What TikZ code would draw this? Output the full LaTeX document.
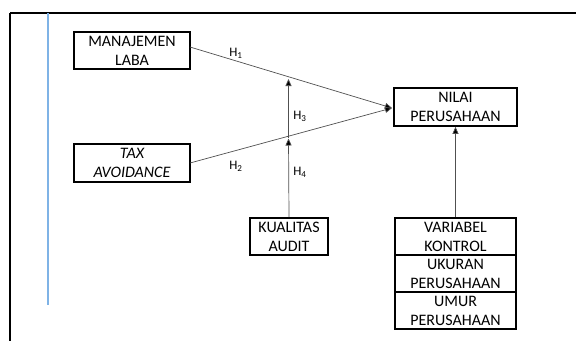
\documentclass[tikz,border=0pt]{standalone}
\usepackage{fontspec}
\setmainfont{Carlito}
\usetikzlibrary{arrows.meta}
\definecolor{rulblue}{HTML}{7FB3E6}
\definecolor{arrgray}{HTML}{505050}
\tikzset{
  box/.style={draw=black, line width=1.7pt, align=center, inner sep=0pt,
    font=\fontsize{16}{19}\selectfont},
  conn/.style={draw=arrgray, line width=0.7pt, -{Triangle[length=7pt,width=6pt,fill=black]}},
  hlab/.style={font=\fontsize{13}{15}\selectfont, inner sep=0pt},
}
\begin{document}
\begin{tikzpicture}[x=1pt,y=-1pt]
\useasboundingbox (0,0) rectangle (576,341);
% frame lines
\draw[line width=2.2pt] (10,13) -- (576,13);
\draw[line width=1.2pt] (10,13) -- (10,341);
\draw[rulblue, line width=1.4pt] (48,13) -- (48,305);
% boxes
\node[box, minimum width=116pt, minimum height=37pt] (ml) at (132,50.5) {MANAJEMEN\\LABA};
\node[box, minimum width=116pt, minimum height=38pt] (ta) at (132,163) {\itshape TAX\\\itshape AVOIDANCE};
\node[box, minimum width=123pt, minimum height=38pt] (np) at (455.5,107) {NILAI\\PERUSAHAAN};
\node[box, minimum width=78pt, minimum height=37pt] (ka) at (289,236.5) {KUALITAS\\AUDIT};
\node[box, minimum width=121pt, minimum height=37pt] (vk) at (455.5,236.5) {VARIABEL\\KONTROL};
\node[box, minimum width=121pt, minimum height=37pt] (uk) at (455.5,273.5) {UKURAN\\PERUSAHAAN};
\node[box, minimum width=121pt, minimum height=37pt] (um) at (455.5,310.5) {UMUR\\PERUSAHAAN};
% coordinates
\coordinate (s1) at (190,47);
\coordinate (s2) at (190,163);
\coordinate (tip) at (392,108);
\coordinate (m2) at (288.5,137.5);
\coordinate (m2b) at (288.5,138.5);
\coordinate (m1) at (288.5,79);
% connectors
\draw[conn] (s1) -- (tip);
\draw[conn] (s2) -- (tip);
\draw[conn] (ka.north) -- (m2b);
\draw[conn] (m2) -- (m1);
\draw[conn] (vk.north) -- (np.south);
% labels
\node[hlab] (h1) at (236,53) {H\textsubscript{1}};
\node[hlab] (h2) at (236,166) {H\textsubscript{2}};
\node[hlab] (h3) at (300,116) {H\textsubscript{3}};
\node[hlab] (h4) at (300,172) {H\textsubscript{4}};
\end{tikzpicture}
\end{document}
